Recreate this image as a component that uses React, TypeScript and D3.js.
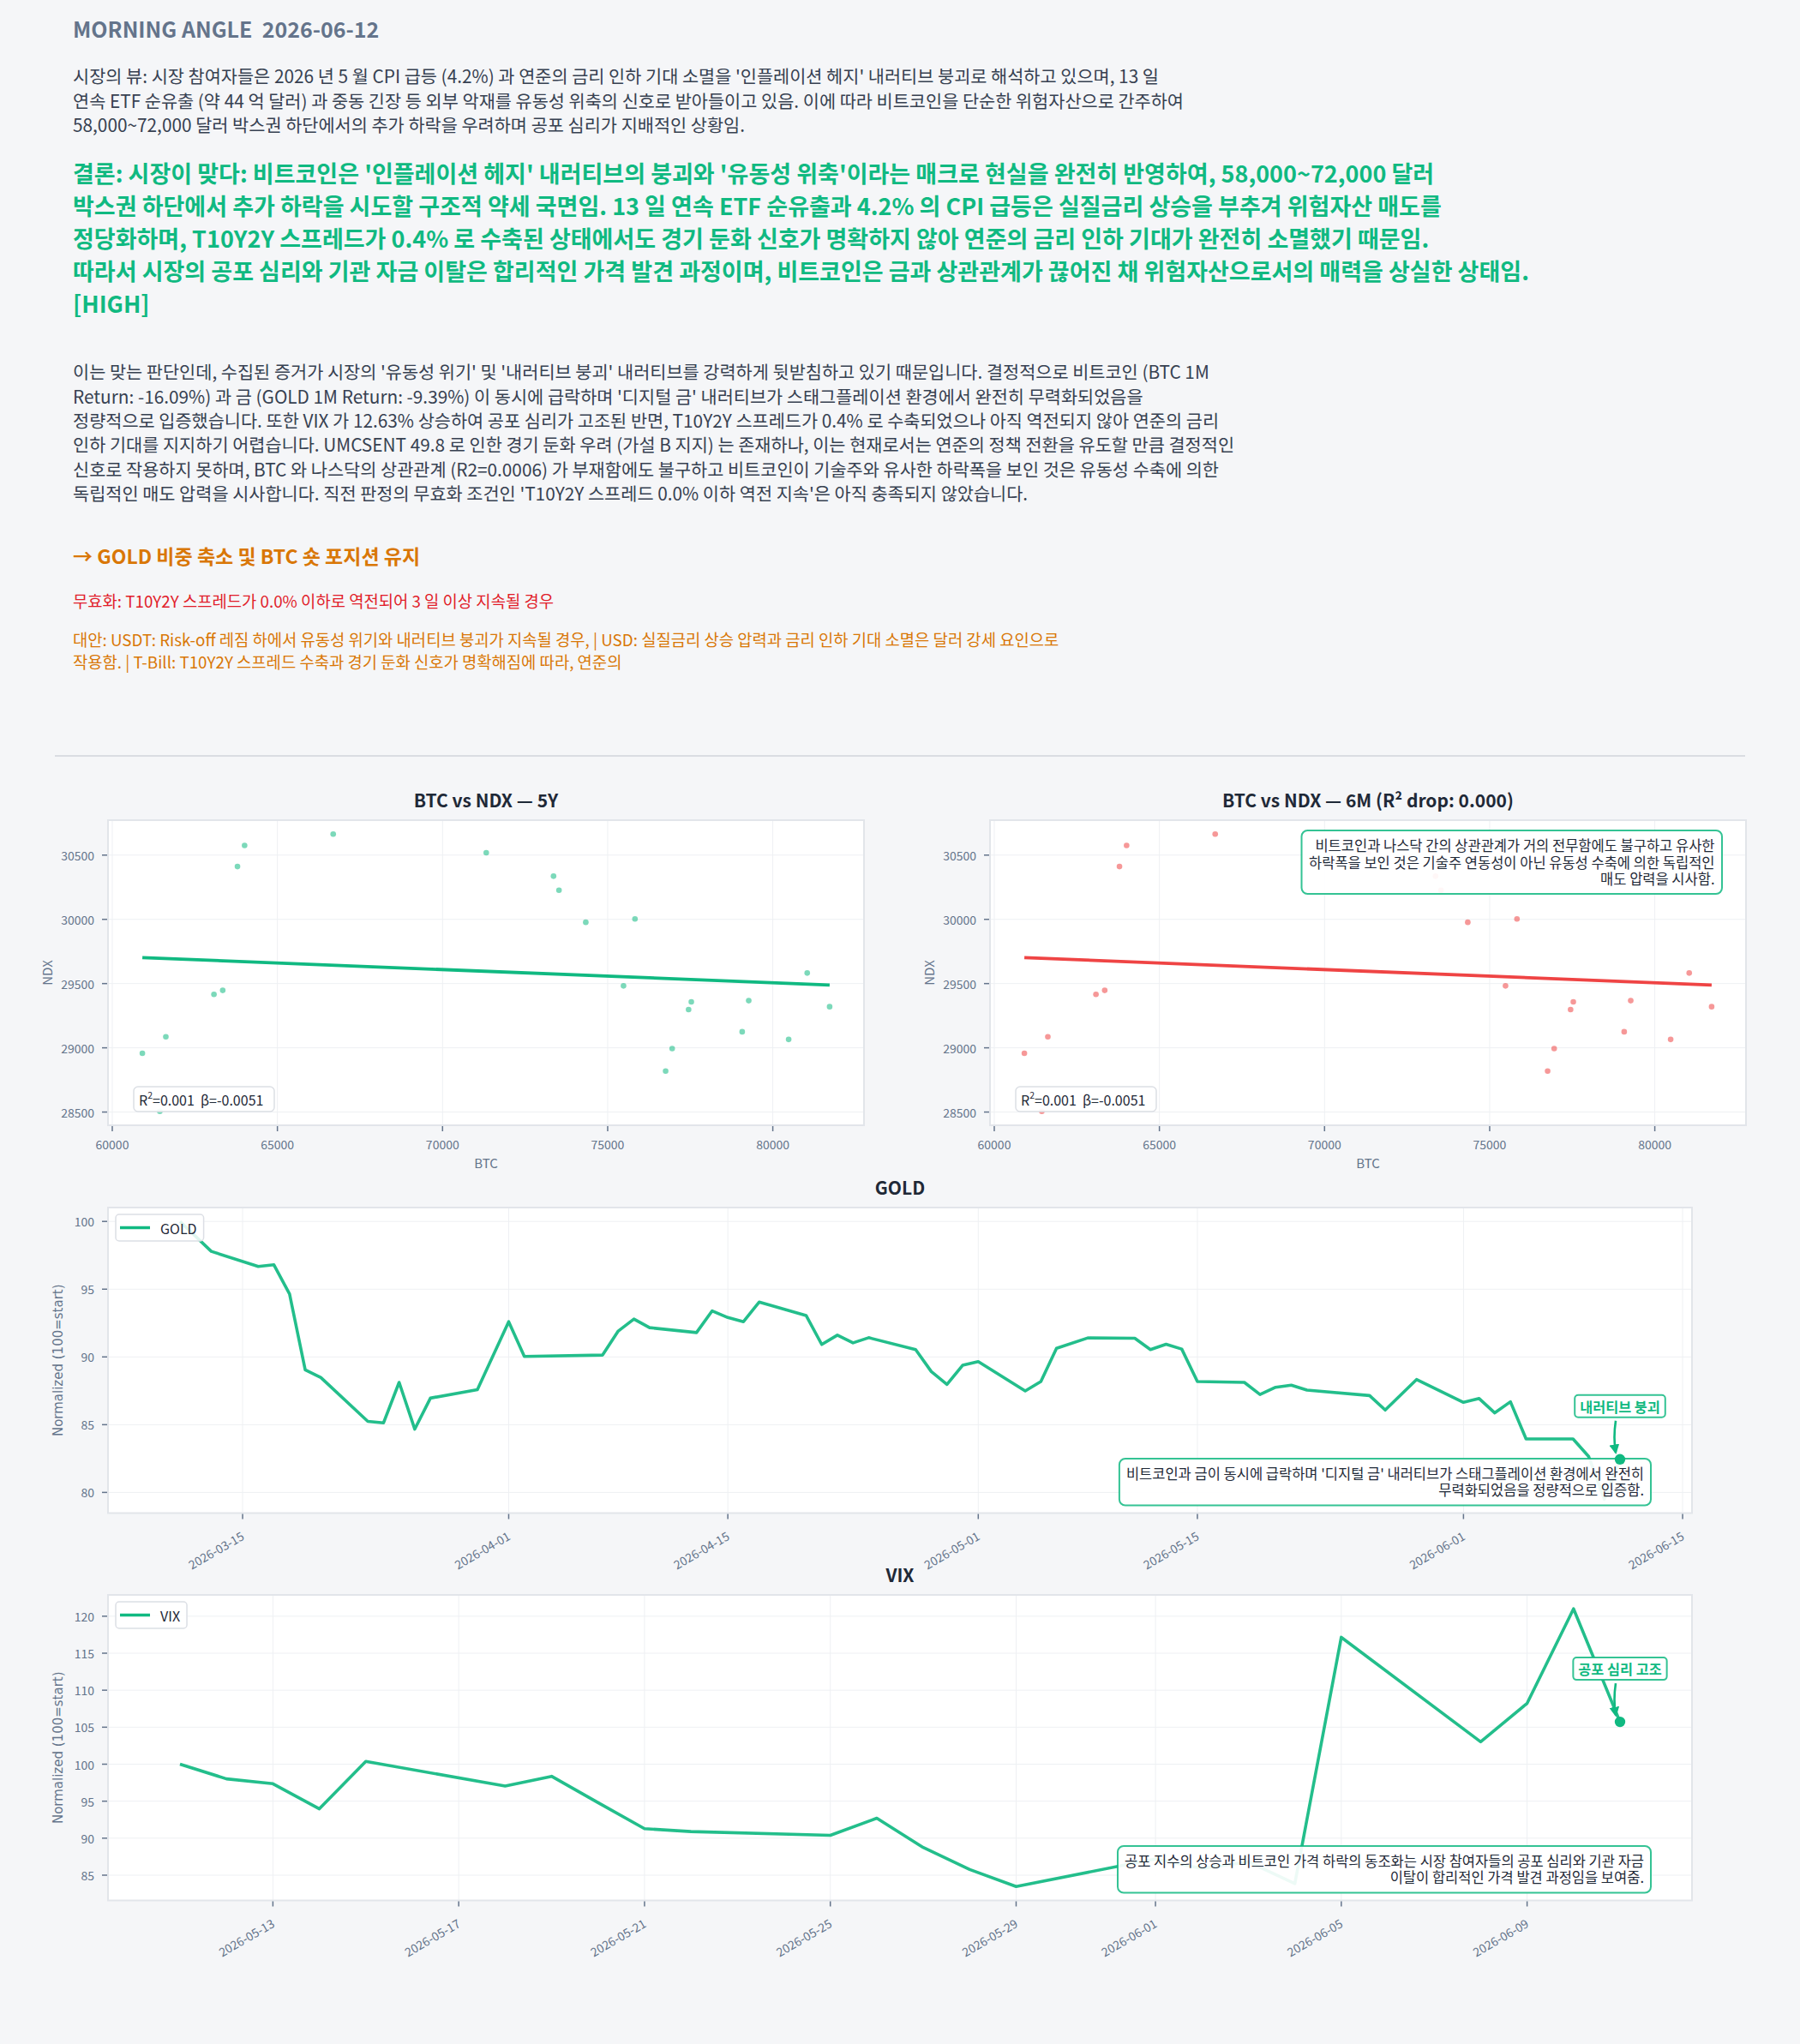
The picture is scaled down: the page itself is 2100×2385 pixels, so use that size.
import React from "react";
import * as d3 from "d3";

const FONT = "'Noto Sans CJK KR', 'Noto Sans', sans-serif";
const INK = "#1f2937";
const BODY = "#374151";
const MUTED = "#64748b";
const GREEN = "#10b981";
const RED = "#ef4444";
const ORANGE = "#d97706";
const GRID = "#eef0f3";
const FRAME = "#e2e5ea";

// report text
const headerTitle = "MORNING ANGLE  2026-06-12";
const viewLines = [
  "시장의 뷰: 시장 참여자들은 2026 년 5 월 CPI 급등 (4.2%) 과 연준의 금리 인하 기대 소멸을 '인플레이션 헤지' 내러티브 붕괴로 해석하고 있으며, 13 일",
  "연속 ETF 순유출 (약 44 억 달러) 과 중동 긴장 등 외부 악재를 유동성 위축의 신호로 받아들이고 있음. 이에 따라 비트코인을 단순한 위험자산으로 간주하여",
  "58,000~72,000 달러 박스권 하단에서의 추가 하락을 우려하며 공포 심리가 지배적인 상황임.",
];
const conclusionLines = [
  "결론: 시장이 맞다: 비트코인은 '인플레이션 헤지' 내러티브의 붕괴와 '유동성 위축'이라는 매크로 현실을 완전히 반영하여, 58,000~72,000 달러",
  "박스권 하단에서 추가 하락을 시도할 구조적 약세 국면임. 13 일 연속 ETF 순유출과 4.2% 의 CPI 급등은 실질금리 상승을 부추겨 위험자산 매도를",
  "정당화하며, T10Y2Y 스프레드가 0.4% 로 수축된 상태에서도 경기 둔화 신호가 명확하지 않아 연준의 금리 인하 기대가 완전히 소멸했기 때문임.",
  "따라서 시장의 공포 심리와 기관 자금 이탈은 합리적인 가격 발견 과정이며, 비트코인은 금과 상관관계가 끊어진 채 위험자산으로서의 매력을 상실한 상태임.",
  "[HIGH]",
];
const reasonLines = [
  "이는 맞는 판단인데, 수집된 증거가 시장의 '유동성 위기' 및 '내러티브 붕괴' 내러티브를 강력하게 뒷받침하고 있기 때문입니다. 결정적으로 비트코인 (BTC 1M",
  "Return: -16.09%) 과 금 (GOLD 1M Return: -9.39%) 이 동시에 급락하며 '디지털 금' 내러티브가 스태그플레이션 환경에서 완전히 무력화되었음을",
  "정량적으로 입증했습니다. 또한 VIX 가 12.63% 상승하여 공포 심리가 고조된 반면, T10Y2Y 스프레드가 0.4% 로 수축되었으나 아직 역전되지 않아 연준의 금리",
  "인하 기대를 지지하기 어렵습니다. UMCSENT 49.8 로 인한 경기 둔화 우려 (가설 B 지지) 는 존재하나, 이는 현재로서는 연준의 정책 전환을 유도할 만큼 결정적인",
  "신호로 작용하지 못하며, BTC 와 나스닥의 상관관계 (R2=0.0006) 가 부재함에도 불구하고 비트코인이 기술주와 유사한 하락폭을 보인 것은 유동성 수축에 의한",
  "독립적인 매도 압력을 시사합니다. 직전 판정의 무효화 조건인 'T10Y2Y 스프레드 0.0% 이하 역전 지속'은 아직 충족되지 않았습니다.",
];
const actionLine = "→ GOLD 비중 축소 및 BTC 숏 포지션 유지";
const invalidLine = "무효화: T10Y2Y 스프레드가 0.0% 이하로 역전되어 3 일 이상 지속될 경우";
const altLines = [
  "대안: USDT: Risk-off 레짐 하에서 유동성 위기와 내러티브 붕괴가 지속될 경우, | USD: 실질금리 상승 압력과 금리 인하 기대 소멸은 달러 강세 요인으로",
  "작용함. | T-Bill: T10Y2Y 스프레드 수축과 경기 둔화 신호가 명확해짐에 따라, 연준의",
];

// BTC vs NDX
const btcValues = [60911, 61622, 61440, 63079, 63344, 63791, 64006, 66689, 71324, 73361, 73526, 74337, 75480, 75827, 76755, 76953, 77450, 77533, 79073, 79271, 80480, 81042, 81721];
const ndxValues = [28957, 29086, 28505, 29416, 29447, 30411, 30575, 30664, 30518, 30336, 30227, 29977, 29482, 30003, 28819, 28994, 29298, 29358, 29125, 29367, 29065, 29582, 29320];
const fitBtc = [60911, 81721];
const fitNdx = [29702, 29489];
const btcTicks = [60000, 65000, 70000, 75000, 80000];
const ndxTicks = [28500, 29000, 29500, 30000, 30500];
const statText = "=0.001  β=-0.0051";
const scatterNote = [
  "비트코인과 나스닥 간의 상관관계가 거의 전무함에도 불구하고 유사한",
  "하락폭을 보인 것은 기술주 연동성이 아닌 유동성 수축에 의한 독립적인",
  "매도 압력을 시사함.",
];

// GOLD
const goldDates = [
  "2026-03-11", "2026-03-13", "2026-03-16", "2026-03-17", "2026-03-18", "2026-03-19", "2026-03-20",
  "2026-03-23", "2026-03-24", "2026-03-25", "2026-03-26", "2026-03-27", "2026-03-30", "2026-04-01",
  "2026-04-02", "2026-04-07", "2026-04-08", "2026-04-09", "2026-04-10", "2026-04-13", "2026-04-14",
  "2026-04-15", "2026-04-16", "2026-04-17", "2026-04-20", "2026-04-21", "2026-04-22", "2026-04-23",
  "2026-04-24", "2026-04-27", "2026-04-28", "2026-04-29", "2026-04-30", "2026-05-01", "2026-05-04",
  "2026-05-05", "2026-05-06", "2026-05-08", "2026-05-11", "2026-05-12", "2026-05-13", "2026-05-14",
  "2026-05-15", "2026-05-18", "2026-05-19", "2026-05-20", "2026-05-21", "2026-05-22", "2026-05-26",
  "2026-05-27", "2026-05-29", "2026-06-01", "2026-06-02", "2026-06-03", "2026-06-04", "2026-06-05",
  "2026-06-08", "2026-06-09", "2026-06-10", "2026-06-11",
];
const goldValues = [
  100.0, 97.79, 96.68, 96.8, 94.64, 89.04, 88.48,
  85.24, 85.13, 88.12, 84.67, 86.96, 87.59, 92.6,
  90.03, 90.14, 91.91, 92.79, 92.16, 91.8, 93.4,
  92.91, 92.6, 94.05, 93.06, 90.92, 91.61, 91.04,
  91.42, 90.54, 88.92, 87.97, 89.38, 89.65, 87.49,
  88.18, 90.64, 91.4, 91.38, 90.54, 90.94, 90.58,
  88.18, 88.12, 87.23, 87.76, 87.91, 87.55, 87.15,
  86.08, 88.33, 86.65, 86.93, 85.87, 86.69, 83.95,
  83.95, 82.65, 79.5, 82.44,
];
const goldDateTicks = ["2026-03-15", "2026-04-01", "2026-04-15", "2026-05-01", "2026-05-15", "2026-06-01", "2026-06-15"];
const goldValueTicks = [80, 85, 90, 95, 100];
const goldMarker = { date: "2026-06-11", value: 82.44 };
const goldLabel = "내러티브 붕괴";
const goldNote = [
  "비트코인과 금이 동시에 급락하며 '디지털 금' 내러티브가 스태그플레이션 환경에서 완전히",
  "무력화되었음을 정량적으로 입증함.",
];

// VIX
const vixDates = [
  "2026-05-11", "2026-05-12", "2026-05-13", "2026-05-14", "2026-05-15", "2026-05-18", "2026-05-19",
  "2026-05-20", "2026-05-21", "2026-05-22", "2026-05-25", "2026-05-26", "2026-05-27", "2026-05-28",
  "2026-05-29", "2026-06-01", "2026-06-02", "2026-06-03", "2026-06-04", "2026-06-05", "2026-06-08",
  "2026-06-09", "2026-06-10", "2026-06-11",
];
const vixValues = [
  100.0, 98.02, 97.36, 93.97, 100.37, 97.05, 98.36,
  94.8, 91.28, 90.89, 90.39, 92.7, 88.74, 85.77,
  83.46, 87.2, 85.9, 86.8, 83.85, 117.15, 103.02,
  108.22, 121.0, 105.72,
];
const vixDateTicks = ["2026-05-13", "2026-05-17", "2026-05-21", "2026-05-25", "2026-05-29", "2026-06-01", "2026-06-05", "2026-06-09"];
const vixValueTicks = [85, 90, 95, 100, 105, 110, 115, 120];
const vixMarker = { date: "2026-06-11", value: 105.72 };
const vixLabel = "공포 심리 고조";
const vixNote = [
  "공포 지수의 상승과 비트코인 가격 하락의 동조화는 시장 참여자들의 공포 심리와 기관 자금",
  "이탈이 합리적인 가격 발견 과정임을 보여줌.",
];

const parseDate = d3.utcParse("%Y-%m-%d");
const fmtDate = d3.utcFormat("%Y-%m-%d");
const pad = (lo, hi) => [lo - (hi - lo) * 0.05, hi + (hi - lo) * 0.05];

const NOTE_SIZE = 16.5;
const LABEL_SIZE = 16.3;
const PRE = { whiteSpace: "pre" };

let ctx = null;
const measure = (text, font) => {
  if (!ctx) ctx = document.createElement("canvas").getContext("2d");
  ctx.font = font;
  return ctx.measureText(text).width;
};

function Header() {
  return (
    <g fontFamily={FONT} dominantBaseline="central">
      <text x={85} y={33} fontSize={25} fontWeight="bold" fill={MUTED} style={PRE}>{headerTitle}</text>
      {viewLines.map((t, i) => (
        <text key={"v" + i} x={85} y={88.3 + i * 28.4} fontSize={20.8} fill={BODY}>{t}</text>
      ))}
      {conclusionLines.map((t, i) => (
        <text key={"c" + i} x={85} y={201.7 + i * 37.9} fontSize={27} fontWeight="bold" fill={GREEN}>{t}</text>
      ))}
      {reasonLines.map((t, i) => (
        <text key={"r" + i} x={85} y={433.3 + i * 28.35} fontSize={20.8} fill={BODY}>{t}</text>
      ))}
      <text x={85} y={648.3} fontSize={23} fontWeight="bold" fill={ORANGE}>{actionLine}</text>
      <text x={85} y={700} fontSize={18.8} fill="#e11d2a">{invalidLine}</text>
      {altLines.map((t, i) => (
        <text key={"a" + i} x={85} y={745 + i * 26.7} fontSize={18.8} fill={ORANGE}>{t}</text>
      ))}
    </g>
  );
}

function Scatter({ left, title, color, note }) {
  const top = 957, width = 882, height = 356;
  const right = left + width, bottom = top + height;
  const [bx0, bx1] = d3.extent(btcValues);
  const [ny0, ny1] = d3.extent(ndxValues);
  const x = d3.scaleLinear().domain(pad(bx0, bx1)).range([left, right]);
  const y = d3.scaleLinear().domain(pad(ny0, ny1)).range([bottom, top]);
  const fit = d3.line().x((d) => x(d[0])).y((d) => y(d[1]))(fitBtc.map((b, i) => [b, fitNdx[i]]));
  const noteFont = `${NOTE_SIZE}px ${FONT}`;
  const noteW = note ? d3.max(note, (t) => measure(t, noteFont)) + 17 : 0;
  return (
    <g fontFamily={FONT}>
      <text x={(left + right) / 2} y={top - 24} textAnchor="middle" dominantBaseline="central" fontSize={21} fontWeight="bold" fill={INK}>{title}</text>
      <rect x={left} y={top} width={width} height={height} fill="#fff" />
      {btcTicks.map((t) => (
        <line key={"gx" + t} x1={x(t)} x2={x(t)} y1={top} y2={bottom} stroke={GRID} />
      ))}
      {ndxTicks.map((t) => (
        <line key={"gy" + t} x1={left} x2={right} y1={y(t)} y2={y(t)} stroke={GRID} />
      ))}
      {btcValues.map((b, i) => (
        <circle key={i} cx={x(b)} cy={y(ndxValues[i])} r={3.3} fill={color} fillOpacity={0.55} />
      ))}
      <path d={fit} fill="none" stroke={color} strokeWidth={3.8} />
      <rect x={left + 30} y={bottom - 45} width={164} height={29} rx={5} fill="#fff" fillOpacity={0.92} stroke="#dcdfe5" strokeWidth={1.5} />
      <text x={left + 36} y={bottom - 30.5} dominantBaseline="central" fontSize={16} fill={INK} style={PRE}>
        R<tspan dy={-6} fontSize={10.5}>2</tspan><tspan dy={6}>{statText}</tspan>
      </text>
      {note && (
        <g>
          <rect x={right - 28 - noteW} y={top + 12} width={noteW} height={74} rx={7} fill="#fff" fillOpacity={0.92} stroke={GREEN} strokeOpacity={0.85} strokeWidth={2} />
          {note.map((t, i) => (
            <text key={i} x={right - 36.5} y={top + 29 + i * 19.5} textAnchor="end" dominantBaseline="central" fontSize={NOTE_SIZE} fill={INK}>{t}</text>
          ))}
        </g>
      )}
      <rect x={left} y={top} width={width} height={height} fill="none" stroke={FRAME} strokeWidth={2} />
      {btcTicks.map((t) => (
        <g key={"tx" + t}>
          <line x1={x(t)} x2={x(t)} y1={bottom + 1} y2={bottom + 7} stroke={MUTED} strokeWidth={1.5} />
          <text x={x(t)} y={bottom + 22} textAnchor="middle" dominantBaseline="central" fontSize={14} fill={MUTED}>{t}</text>
        </g>
      ))}
      {ndxTicks.map((t) => (
        <g key={"ty" + t}>
          <line x1={left - 7} x2={left - 1} y1={y(t)} y2={y(t)} stroke={MUTED} strokeWidth={1.5} />
          <text x={left - 16} y={y(t)} textAnchor="end" dominantBaseline="central" fontSize={14} fill={MUTED}>{t}</text>
        </g>
      ))}
      <text x={(left + right) / 2} y={bottom + 43} textAnchor="middle" dominantBaseline="central" fontSize={15} fill={MUTED}>BTC</text>
      <text transform={`translate(${left - 72},${(top + bottom) / 2}) rotate(-90)`} textAnchor="middle" dominantBaseline="central" fontSize={15} fill={MUTED}>NDX</text>
    </g>
  );
}

function LineChart({ id, top, title, name, dates, values, marker, dateTicks, valueTicks, label, note }) {
  const left = 126, right = 1974, height = 356.5;
  const bottom = top + height;
  const pts = dates.map((d, i) => ({ t: parseDate(d), v: values[i] }));
  const mt = parseDate(marker.date);
  const [t0, t1] = d3.extent([...pts.map((p) => p.t), mt]);
  const span = +t1 - +t0;
  const x = d3.scaleUtc().domain([new Date(+t0 - span * 0.05), new Date(+t1 + span * 0.05)]).range([left, right]);
  const [v0, v1] = d3.extent([...values, marker.value]);
  const y = d3.scaleLinear().domain(pad(v0, v1)).range([bottom, top]);
  const path = d3.line().x((p) => x(p.t)).y((p) => y(p.v))(pts);
  const mx = x(mt), my = y(marker.value);
  const noteW = d3.max(note, (t) => measure(t, `${NOTE_SIZE}px ${FONT}`)) + 16;
  const labelW = measure(label, `bold ${LABEL_SIZE}px ${FONT}`) + 12;
  const ly = my - 62;
  const legendW = measure(name, `16px ${FONT}`) + 60;
  return (
    <g fontFamily={FONT}>
      <defs>
        <clipPath id={"clip" + id}>
          <rect x={left} y={top} width={right - left} height={height} />
        </clipPath>
        <marker id={"arrow" + id} viewBox="0 0 10 10" refX={8} refY={5} markerWidth={4.5} markerHeight={4.5} orient="auto">
          <path d="M0,0 L10,5 L0,10 z" fill={GREEN} />
        </marker>
      </defs>
      <text x={(left + right) / 2} y={top - 24} textAnchor="middle" dominantBaseline="central" fontSize={21} fontWeight="bold" fill={INK}>{title}</text>
      <rect x={left} y={top} width={right - left} height={height} fill="#fff" />
      {dateTicks.map((d) => (
        <line key={"gx" + d} x1={x(parseDate(d))} x2={x(parseDate(d))} y1={top} y2={bottom} stroke={GRID} />
      ))}
      {valueTicks.map((t) => (
        <line key={"gy" + t} x1={left} x2={right} y1={y(t)} y2={y(t)} stroke={GRID} />
      ))}
      <path d={path} fill="none" stroke={GREEN} strokeWidth={3.6} strokeLinejoin="round" strokeOpacity={0.92} clipPath={`url(#clip${id})`} />
      <rect x={left + 9} y={top + 8} width={legendW} height={31} rx={4} fill="#fff" fillOpacity={0.85} stroke="#dcdfe5" strokeWidth={1.5} />
      <line x1={left + 14} x2={left + 49} y1={top + 23.5} y2={top + 23.5} stroke={GREEN} strokeWidth={3.6} />
      <text x={left + 61} y={top + 23.5} dominantBaseline="central" fontSize={16} fill={INK}>{name}</text>
      <rect x={right - 48 - noteW} y={bottom - 9 - 54.5} width={noteW} height={54.5} rx={7} fill="#fff" fillOpacity={0.92} stroke={GREEN} strokeOpacity={0.85} strokeWidth={2} />
      {note.map((t, i) => (
        <text key={i} x={right - 56} y={bottom - 47 + i * 19.3} textAnchor="end" dominantBaseline="central" fontSize={NOTE_SIZE} fill={INK}>{t}</text>
      ))}
      <circle cx={mx} cy={my} r={6.2} fill={GREEN} />
      <path d={`M${mx - 5},${ly + 17} Q${mx - 8},${(ly + my) / 2 + 6} ${mx - 5},${my - 8}`} fill="none" stroke={GREEN} strokeWidth={2.6} markerEnd={`url(#arrow${id})`} />
      <rect x={mx - labelW / 2} y={ly - 13} width={labelW} height={26} rx={4} fill="#fff" stroke={GREEN} strokeOpacity={0.85} strokeWidth={2} />
      <text x={mx} y={ly} textAnchor="middle" dominantBaseline="central" fontSize={LABEL_SIZE} fontWeight="bold" fill={GREEN}>{label}</text>
      <rect x={left} y={top} width={right - left} height={height} fill="none" stroke={FRAME} strokeWidth={2} />
      {dateTicks.map((d) => {
        const tx = x(parseDate(d));
        return (
          <g key={"tx" + d}>
            <line x1={tx} x2={tx} y1={bottom + 1} y2={bottom + 7} stroke={MUTED} strokeWidth={1.5} />
            <text transform={`translate(${tx},${bottom + 25}) rotate(-30)`} textAnchor="end" dominantBaseline="central" fontSize={14} fill={MUTED}>{fmtDate(parseDate(d))}</text>
          </g>
        );
      })}
      {valueTicks.map((t) => (
        <g key={"ty" + t}>
          <line x1={left - 7} x2={left - 1} y1={y(t)} y2={y(t)} stroke={MUTED} strokeWidth={1.5} />
          <text x={left - 16} y={y(t)} textAnchor="end" dominantBaseline="central" fontSize={14} fill={MUTED}>{t}</text>
        </g>
      ))}
      <text transform={`translate(${left - 58},${(top + bottom) / 2}) rotate(-90)`} textAnchor="middle" dominantBaseline="central" fontSize={15} fontFamily="'DejaVu Sans', sans-serif" fill={MUTED}>Normalized (100=start)</text>
    </g>
  );
}

export default function App() {
  return (
    <svg width={2100} height={2385} style={{ position: "absolute", left: 0, top: 0, display: "block" }}>
      <rect width={2100} height={2385} fill="#f5f6f8" />
      <Header />
      <line x1={64} x2={2036} y1={882} y2={882} stroke="#d1d5db" strokeWidth={1.5} />
      <Scatter left={126} title="BTC vs NDX — 5Y" color={GREEN} />
      <Scatter left={1155} title="BTC vs NDX — 6M (R² drop: 0.000)" color={RED} note={scatterNote} />
      <LineChart id="gold" top={1409} title="GOLD" name="GOLD" dates={goldDates} values={goldValues} marker={goldMarker}
        dateTicks={goldDateTicks} valueTicks={goldValueTicks} label={goldLabel} note={goldNote} />
      <LineChart id="vix" top={1861} title="VIX" name="VIX" dates={vixDates} values={vixValues} marker={vixMarker}
        dateTicks={vixDateTicks} valueTicks={vixValueTicks} label={vixLabel} note={vixNote} />
    </svg>
  );
}
